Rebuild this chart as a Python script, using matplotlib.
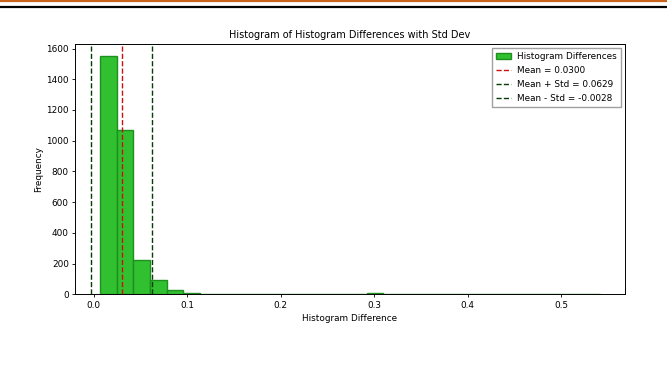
import numpy as np
import matplotlib
matplotlib.use("Agg")
import matplotlib.pyplot as plt
from matplotlib.lines import Line2D

# Histogram of per-item histogram differences (30 equal-width bins)
bin_start = 0.0069
bin_stop = 0.5412
n_bins = 30
counts = [1552, 1067, 223, 93, 28, 6, 0, 0, 0, 0,
          0, 0, 0, 0, 0, 0, 7, 0, 0, 0,
          0, 0, 0, 0, 0, 0, 0, 0, 0, 1]
mean_val = 0.0300
mean_plus = 0.0629
mean_minus = -0.0028

edges = np.linspace(bin_start, bin_stop, n_bins + 1)
centers = (edges[:-1] + edges[1:]) / 2

fig = plt.figure(figsize=(6.67, 3.69), dpi=100)
ax = fig.add_axes([0.1124, 0.2024, 0.8246, 0.6784])

ax.hist(centers, bins=edges, weights=counts, color="#30c030",
        edgecolor="#1f8f1f", linewidth=1.0, label="Histogram Differences")
ax.axvline(mean_val, color="#cc1010", linestyle="--", linewidth=1.0,
           label=f"Mean = {mean_val:.4f}")
ax.axvline(mean_plus, color="#053d05", linestyle="--", linewidth=1.0,
           label=f"Mean + Std = {mean_plus:.4f}")
ax.axvline(mean_minus, color="#053d05", linestyle="--", linewidth=1.0,
           label=f"Mean - Std = {mean_minus:.4f}")

ax.set_title("Histogram of Histogram Differences with Std Dev", fontsize=7.0, pad=4)
ax.set_xlabel("Histogram Difference", fontsize=6.4, labelpad=3)
ax.set_ylabel("Frequency", fontsize=6.4, labelpad=2)
ax.tick_params(labelsize=6.4, length=2.5, width=0.6, pad=2)
for s in ax.spines.values():
    s.set_linewidth(0.7)

ax.legend(loc="upper right", fontsize=6.4, frameon=True, fancybox=False,
          edgecolor="#888888", handlelength=1.6, borderpad=0.45,
          labelspacing=0.55, handletextpad=0.7)

# page rules above the figure
fig.add_artist(Line2D([0, 1], [0.998, 0.998], color="#c8641e", linewidth=1.6,
                      transform=fig.transFigure))
fig.add_artist(Line2D([0, 1], [0.981, 0.981], color="black", linewidth=1.6,
                      transform=fig.transFigure))

fig.savefig("out.png", dpi=100)
